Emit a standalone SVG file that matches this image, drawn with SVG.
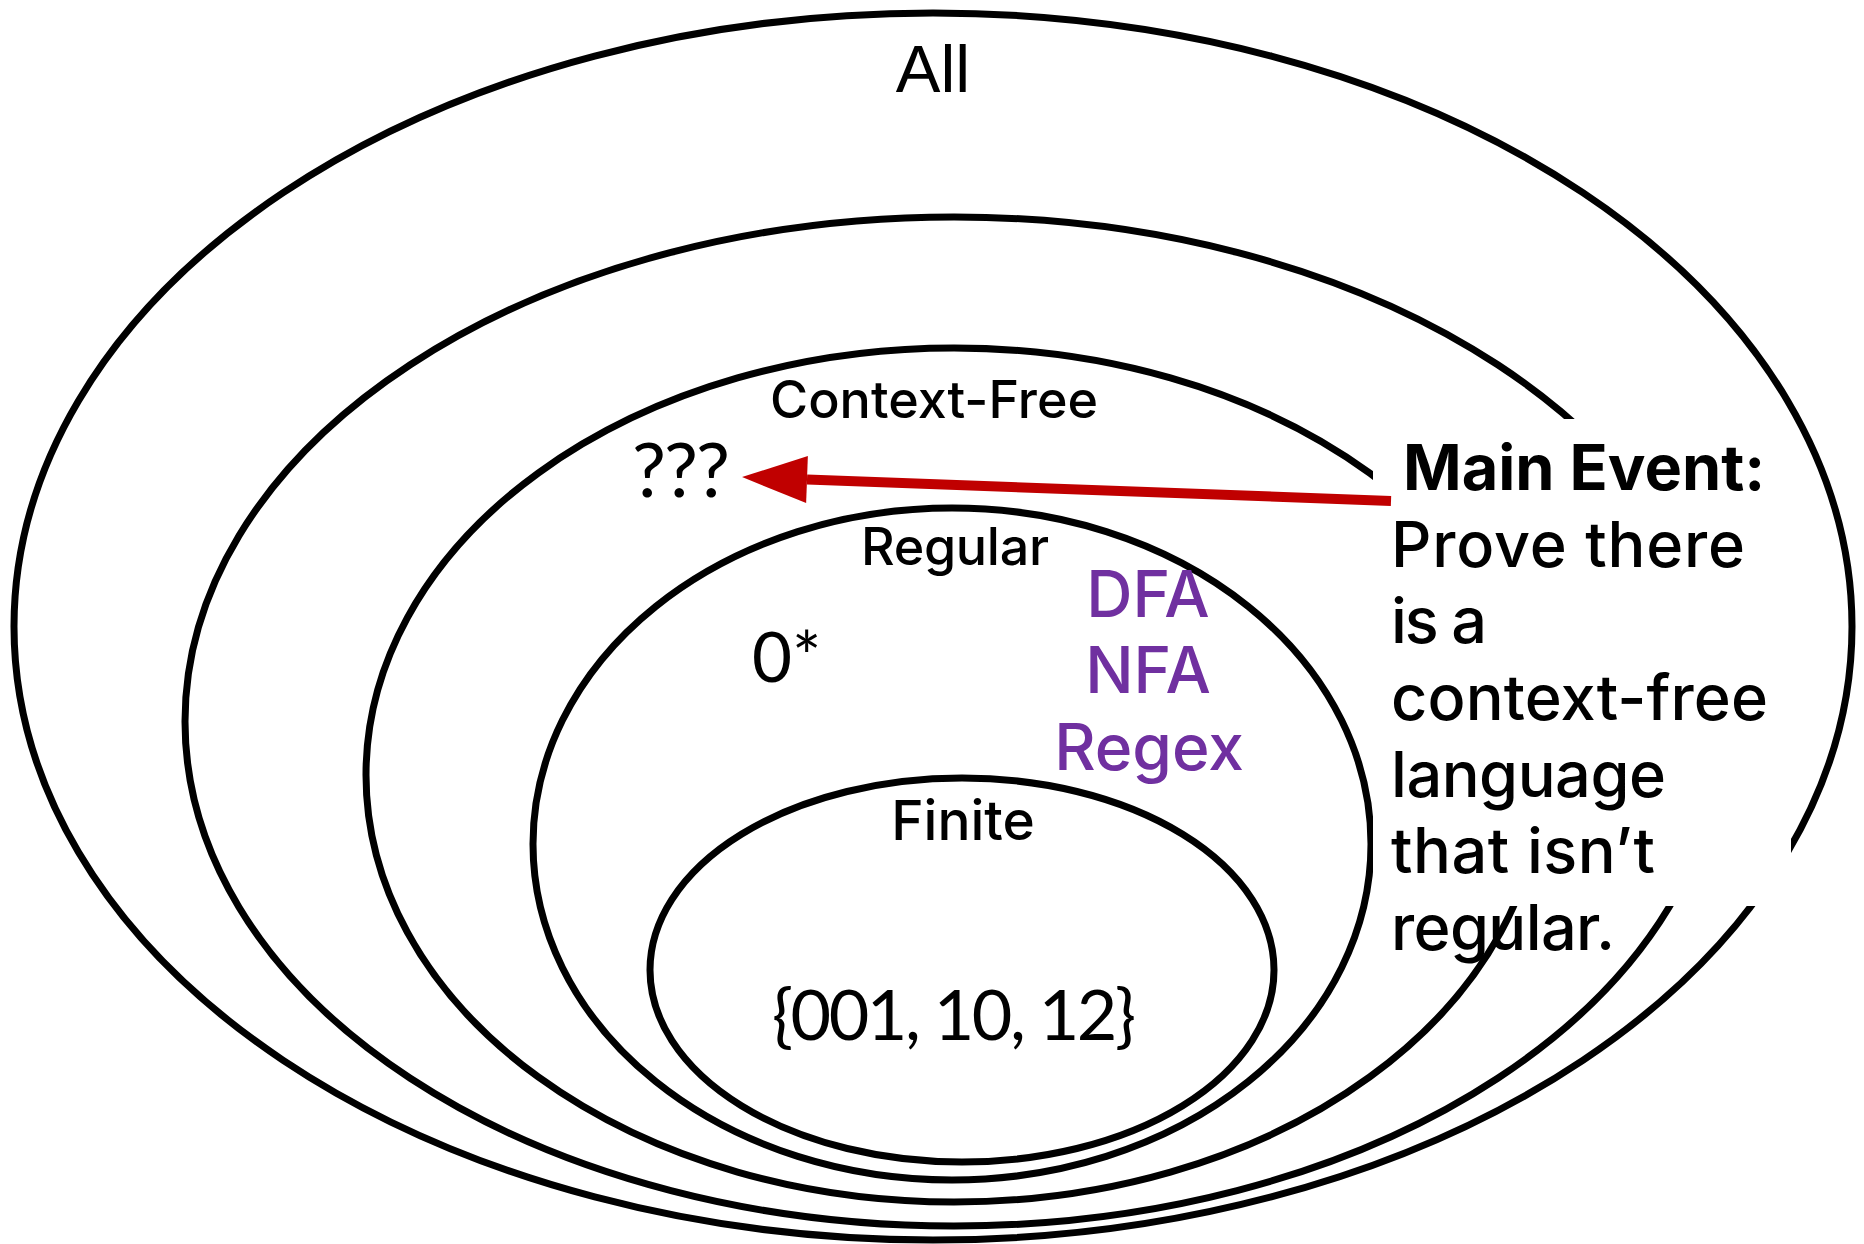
<svg xmlns="http://www.w3.org/2000/svg" width="1864" height="1244" viewBox="0 0 1864 1244">
  <style>
    .set { fill: none; stroke: #000; stroke-width: 7; }
    .lbl { font-family: Inter, "Open Sans", "Liberation Sans", sans-serif; font-weight: 500; fill: #000; text-anchor: middle; }
    .num { font-family: Lato, "Liberation Sans", sans-serif; fill: #000; }
    .model { font-family: Inter, "Open Sans", "Liberation Sans", sans-serif; font-weight: 500; fill: #7030A0; font-size: 64px; text-anchor: middle; }
    .note { font-family: Inter, "Open Sans", "Liberation Sans", sans-serif; font-weight: 500; fill: #000; font-size: 63px; }
    .note.head { font-weight: 700; }
    .arrow { stroke: #C00000; stroke-width: 10; fill: none; }
  </style>
  <defs>
    <marker id="head" markerUnits="userSpaceOnUse" markerWidth="66" markerHeight="48" refX="0" refY="23.5" orient="auto" overflow="visible">
      <path d="M0,0 L65,23.5 L0,47 Z" fill="#C00000"/>
    </marker>
  </defs>

  <rect width="1864" height="1244" fill="#fff"/>

  <!-- nested language classes, outermost first -->
  <g id="all">
    <ellipse class="set" cx="933" cy="626.5" rx="919" ry="613.5"/>
    <text x="933" y="92" font-family="'Liberation Sans', Arial, sans-serif" font-size="67" text-anchor="middle">All</text>
  </g>

  <g id="unnamed-class">
    <ellipse class="set" cx="954" cy="721.5" rx="769" ry="504.5"/>
  </g>

  <g id="context-free">
    <ellipse class="set" cx="954" cy="775" rx="588" ry="427"/>
    <text class="lbl" x="934" y="418" font-size="52" textLength="328" lengthAdjust="spacing">Context-Free</text>
    <text class="num" x="632" y="497" font-size="76" textLength="98" lengthAdjust="spacing">???</text>
  </g>

  <g id="regular">
    <ellipse class="set" cx="952" cy="844" rx="419" ry="336"/>
    <text class="lbl" x="955" y="565" font-size="52" textLength="188" lengthAdjust="spacing">Regular</text>
    <text class="num" x="752" y="682" font-size="69">0*</text>
    <text class="model" x="1148" y="617">DFA</text>
    <text class="model" x="1148" y="693">NFA</text>
    <text class="model" x="1149" y="770">Regex</text>
  </g>

  <g id="finite">
    <ellipse class="set" cx="962" cy="970" rx="312" ry="192"/>
    <text class="lbl" x="963" y="840" font-size="55">Finite</text>
    <text class="num" x="954" y="1040" font-size="70" text-anchor="middle" textLength="364" lengthAdjust="spacing">{001, 10, 12}</text>
  </g>

  <!-- callout box sits over the outer rings -->
  <g id="main-event">
    <rect x="1373" y="419" width="418" height="487" fill="#fff"/>
    <text class="note head" x="1403" y="490">Main Event:</text>
    <text class="note" x="1391" y="567" textLength="354" lengthAdjust="spacing">Prove there</text>
    <text class="note" x="1391" y="643" textLength="96" lengthAdjust="spacing">is a</text>
    <text class="note" x="1391" y="720" textLength="377" lengthAdjust="spacing">context-free</text>
    <text class="note" x="1391" y="797" textLength="275" lengthAdjust="spacing">language</text>
    <text class="note" x="1391" y="873" textLength="264" lengthAdjust="spacing">that isn’t</text>
    <text class="note" x="1391" y="950" textLength="224" lengthAdjust="spacing">regular.</text>
  </g>

  <g id="connectors">
    <line class="arrow" x1="1391" y1="501" x2="807" y2="479.5" marker-end="url(#head)"/>
  </g>
</svg>
